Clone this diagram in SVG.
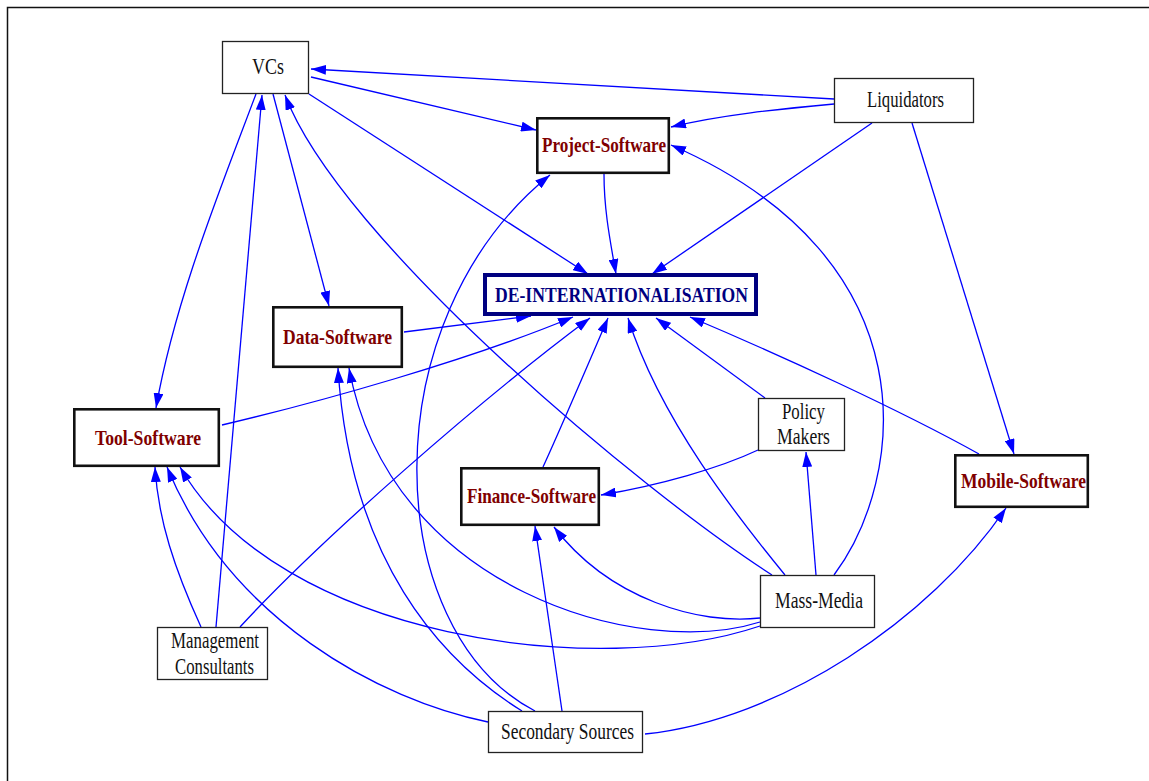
<svg xmlns="http://www.w3.org/2000/svg" width="1149" height="781" viewBox="0 0 1149 781">
<style>
.n rect{fill:#fff;stroke:#222;stroke-width:1.3}
.s rect{fill:#fff;stroke:#111;stroke-width:2.6}
.d rect{fill:#fff;stroke:#000080;stroke-width:4}
text{font-family:"Liberation Serif","Times New Roman",serif;font-size:23px;fill:#111}
.s text{font-weight:bold;font-size:22px;fill:#800000}
.d text{font-weight:bold;font-size:22px;fill:#000080}
#edges path{fill:none;stroke:#0000ff;stroke-width:1.3;marker-end:url(#ah)}
</style>
<defs>
<marker id="ah" markerUnits="userSpaceOnUse" markerWidth="15" markerHeight="10" refX="15" refY="5" orient="auto">
<path d="M0,0 L15,5 L0,10 z" fill="#0000ff"/>
</marker>
</defs>
<rect x="0" y="0" width="1149" height="781" fill="#fff"/>
<path d="M7.5,781 V7.5 H1149" fill="none" stroke="#111" stroke-width="1.5"/>
<g id="edges">
<path d="M834,99 L311,69"/>
<path d="M311,77 L536,130"/>
<path d="M834,104 C780,109 720,115 671,127"/>
<path d="M309,94 L588,274"/>
<path d="M256,94 C220,190 175,300 156,408"/>
<path d="M216,627 L262,95"/>
<path d="M273,94 L329,306"/>
<path d="M772,575 C640,490 340,240 285,95"/>
<path d="M604,174 C604,210 610,240 616,274"/>
<path d="M872,123 L652,274"/>
<path d="M912,123 L1014,454"/>
<path d="M404,332 L531,316"/>
<path d="M222,425 C320,402 470,360 573,317"/>
<path d="M240,627 C320,540 480,400 590,318"/>
<path d="M543,467 C560,430 590,360 608,318"/>
<path d="M785,575 C740,520 660,420 628,318"/>
<path d="M765,398 L656,318"/>
<path d="M979,454 C900,410 780,355 690,317"/>
<path d="M834,575 C905,480 935,260 671,145"/>
<path d="M535,711 C380,630 370,320 550,175"/>
<path d="M758,450 C720,468 660,485 601,495"/>
<path d="M816,575 L806,452"/>
<path d="M760,618 C700,625 610,600 554,527"/>
<path d="M760,622 C640,660 390,590 349,368"/>
<path d="M760,626 C600,680 280,640 180,467"/>
<path d="M522,711 C440,660 350,560 338,368"/>
<path d="M562,711 L535,526"/>
<path d="M488,722 C380,700 230,620 167,467"/>
<path d="M645,734 C780,720 930,620 1006,508"/>
<path d="M201,627 C175,570 158,520 155,467"/>
</g>
<g id="vcs" class="n"><rect x="222.5" y="41.5" width="86" height="52"/><text x="252" y="74" textLength="32" lengthAdjust="spacingAndGlyphs">VCs</text></g>
<g id="liquidators" class="n"><rect x="834.5" y="78.5" width="139" height="44"/><text x="867" y="107" textLength="77" lengthAdjust="spacingAndGlyphs">Liquidators</text></g>
<g id="project" class="s"><rect x="537.3" y="118.3" width="131.5" height="54.5"/><text x="542" y="151.5" textLength="124" lengthAdjust="spacingAndGlyphs">Project-Software</text></g>
<g id="deint" class="d"><rect x="485" y="275" width="271" height="39"/><text x="495" y="301.5" textLength="253" lengthAdjust="spacingAndGlyphs">DE-INTERNATIONALISATION</text></g>
<g id="data" class="s"><rect x="273.3" y="307.3" width="128.5" height="59.5"/><text x="283" y="344" textLength="109" lengthAdjust="spacingAndGlyphs">Data-Software</text></g>
<g id="tool" class="s"><rect x="74.3" y="409.3" width="144.5" height="56.5"/><text x="95" y="445" textLength="106" lengthAdjust="spacingAndGlyphs">Tool-Software</text></g>
<g id="finance" class="s"><rect x="461.3" y="468.3" width="137.5" height="56.5"/><text x="467" y="503" textLength="129" lengthAdjust="spacingAndGlyphs">Finance-Software</text></g>
<g id="policy" class="n"><rect x="758.5" y="398.5" width="86" height="52"/><text x="782" y="419" textLength="43" lengthAdjust="spacingAndGlyphs">Policy</text><text x="777" y="444" textLength="53" lengthAdjust="spacingAndGlyphs">Makers</text></g>
<g id="mobile" class="s"><rect x="955.3" y="455.3" width="132.5" height="51.5"/><text x="961" y="488" textLength="125" lengthAdjust="spacingAndGlyphs">Mobile-Software</text></g>
<g id="mgmt" class="n"><rect x="157.5" y="627.5" width="110" height="52"/><text x="171" y="648" textLength="88" lengthAdjust="spacingAndGlyphs">Management</text><text x="175" y="674" textLength="79" lengthAdjust="spacingAndGlyphs">Consultants</text></g>
<g id="mass" class="n"><rect x="760.5" y="575.5" width="114" height="52"/><text x="775" y="608" textLength="88" lengthAdjust="spacingAndGlyphs">Mass-Media</text></g>
<g id="secondary" class="n"><rect x="488.5" y="711.5" width="154" height="41"/><text x="501" y="739" textLength="133" lengthAdjust="spacingAndGlyphs">Secondary Sources</text></g>
</svg>
